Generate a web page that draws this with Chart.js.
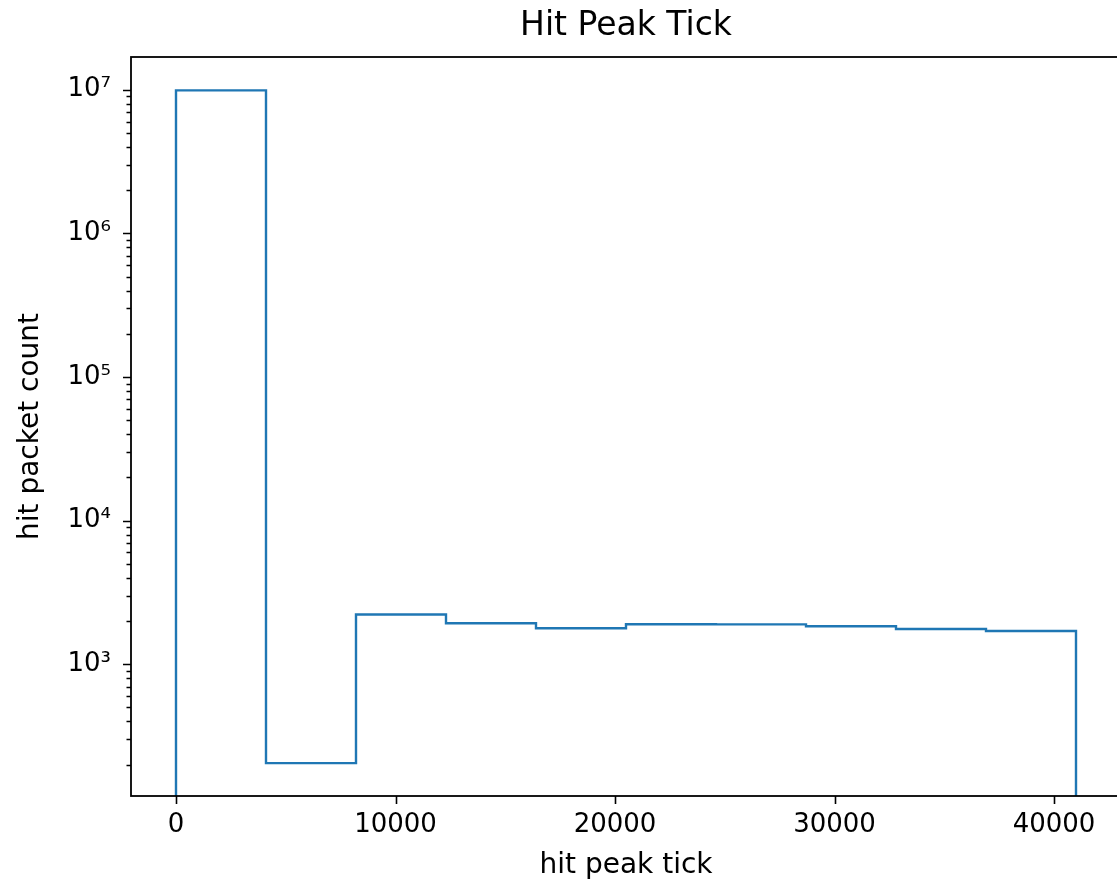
<!DOCTYPE html>
<html lang="en">
<head>
  <meta charset="UTF-8" />
  <title>Hit Peak Tick</title>
  <script src="https://cdn.jsdelivr.net/npm/chart.js"></script>
  <style>
    html, body {
      margin: 0;
      padding: 0;
      background: #ffffff;
      overflow: hidden;
    }

    canvas {
      display: block;
    }
  </style>
</head>
<body>
  <canvas id="hitChart" width="1125" height="884"></canvas>

  <script>
    // histogram of hit peak tick, 10 bins
    const binEdges = [0, 4100, 8200, 12300, 16400, 20500, 24600, 28700, 32800, 36900, 41000];
    const binCounts = [9900000, 205, 2220, 1930, 1780, 1900, 1895, 1840, 1760, 1705];
    const xTickValues = [0, 10000, 20000, 30000, 40000];
    const yDecades = [3, 4, 5, 6, 7];
    const supers = { 3: '³', 4: '⁴', 5: '⁵', 6: '⁶', 7: '⁷' };

    const yMin = 121;
    const yMax = 1.69e7;
    const floorValue = 1; // step outline drops below the axis, like matplotlib

    // build the step outline from the bins
    const outline = [{ x: binEdges[0], y: floorValue }];
    binCounts.forEach((count, i) => {
      outline.push({ x: binEdges[i], y: count });
      outline.push({ x: binEdges[i + 1], y: count });
    });
    outline.push({ x: binEdges[binEdges.length - 1], y: floorValue });

    // minor + major log ticks between yMin and yMax
    const logTicks = [];
    for (let d = 2; d <= 7; d++) {
      for (let m = 1; m <= 9; m++) {
        const v = m * Math.pow(10, d);
        if (v >= yMin && v <= yMax) logTicks.push(v);
      }
    }

    const isMajor = (v) => Math.abs(Math.log10(v) - Math.round(Math.log10(v))) < 1e-9;

    // matplotlib-like frame and tick marks
    const framePlugin = {
      id: 'frame',
      afterDraw(chart) {
        const { ctx, chartArea } = chart;
        const xs = chart.scales.x;
        const ys = chart.scales.y;
        ctx.save();
        ctx.strokeStyle = '#000000';
        ctx.lineWidth = 1.6;
        ctx.beginPath();
        ys.ticks.forEach(t => {
          const py = Math.round(ys.getPixelForValue(t.value)) + 0.5;
          const len = isMajor(t.value) ? 8 : 4.5;
          ctx.moveTo(chartArea.left - len, py);
          ctx.lineTo(chartArea.left, py);
        });
        xs.ticks.forEach(t => {
          const px = Math.round(xs.getPixelForValue(t.value)) + 0.5;
          ctx.moveTo(px, chartArea.bottom);
          ctx.lineTo(px, chartArea.bottom + 8);
        });
        ctx.stroke();
        ctx.lineWidth = 1.8;
        ctx.strokeRect(chartArea.left, chartArea.top, chartArea.right - chartArea.left, chartArea.bottom - chartArea.top);
        ctx.restore();
      }
    };

    const fontFamily = "'DejaVu Sans', sans-serif";

    new Chart(document.getElementById('hitChart'), {
      type: 'line',
      data: {
        datasets: [{
          data: outline,
          borderColor: '#1f77b4',
          borderWidth: 2.4,
          pointRadius: 0,
          fill: false,
          tension: 0
        }]
      },
      options: {
        responsive: false,
        animation: false,
        devicePixelRatio: 1,
        layout: {
          padding: { left: 0, right: 4, top: 0, bottom: 0 }
        },
        plugins: {
          legend: { display: false },
          tooltip: { enabled: false },
          title: {
            display: true,
            fullSize: false,
            text: 'Hit Peak Tick',
            color: '#000000',
            font: { family: fontFamily, size: 33, weight: 'normal', lineHeight: 1.2 },
            padding: { top: 7, bottom: 10.4 }
          }
        },
        scales: {
          x: {
            type: 'linear',
            min: -2050,
            max: 43050,
            grid: { display: false, drawTicks: false },
            border: { display: false },
            afterFit: (scale) => { scale.height = 88; },
            afterBuildTicks: (scale) => {
              scale.ticks = xTickValues.map(v => ({ value: v }));
            },
            ticks: {
              color: '#000000',
              padding: 14,
              maxRotation: 0,
              autoSkip: false,
              font: { family: fontFamily, size: 26 },
              callback: (v) => String(v)
            },
            title: {
              display: true,
              text: 'hit peak tick',
              color: '#000000',
              font: { family: fontFamily, size: 28, lineHeight: 1.2 },
              padding: { top: 0, bottom: 1 }
            }
          },
          y: {
            type: 'logarithmic',
            min: yMin,
            max: yMax,
            grid: { display: false, drawTicks: false },
            border: { display: false },
            afterFit: (scale) => { scale.width = 131; },
            afterBuildTicks: (scale) => {
              scale.ticks = logTicks.map(v => ({ value: v }));
            },
            ticks: {
              color: '#000000',
              padding: 20,
              autoSkip: false,
              font: { family: fontFamily, size: 26 },
              callback: (v) => {
                if (!isMajor(v)) return '';
                const d = Math.round(Math.log10(v));
                return yDecades.includes(d) ? '10' + supers[d] : '';
              }
            },
            title: {
              display: true,
              text: 'hit packet count',
              color: '#000000',
              font: { family: fontFamily, size: 28, lineHeight: 1.2 },
              padding: { top: 14, bottom: 0 }
            }
          }
        }
      },
      plugins: [framePlugin]
    });
  </script>
</body>
</html>
